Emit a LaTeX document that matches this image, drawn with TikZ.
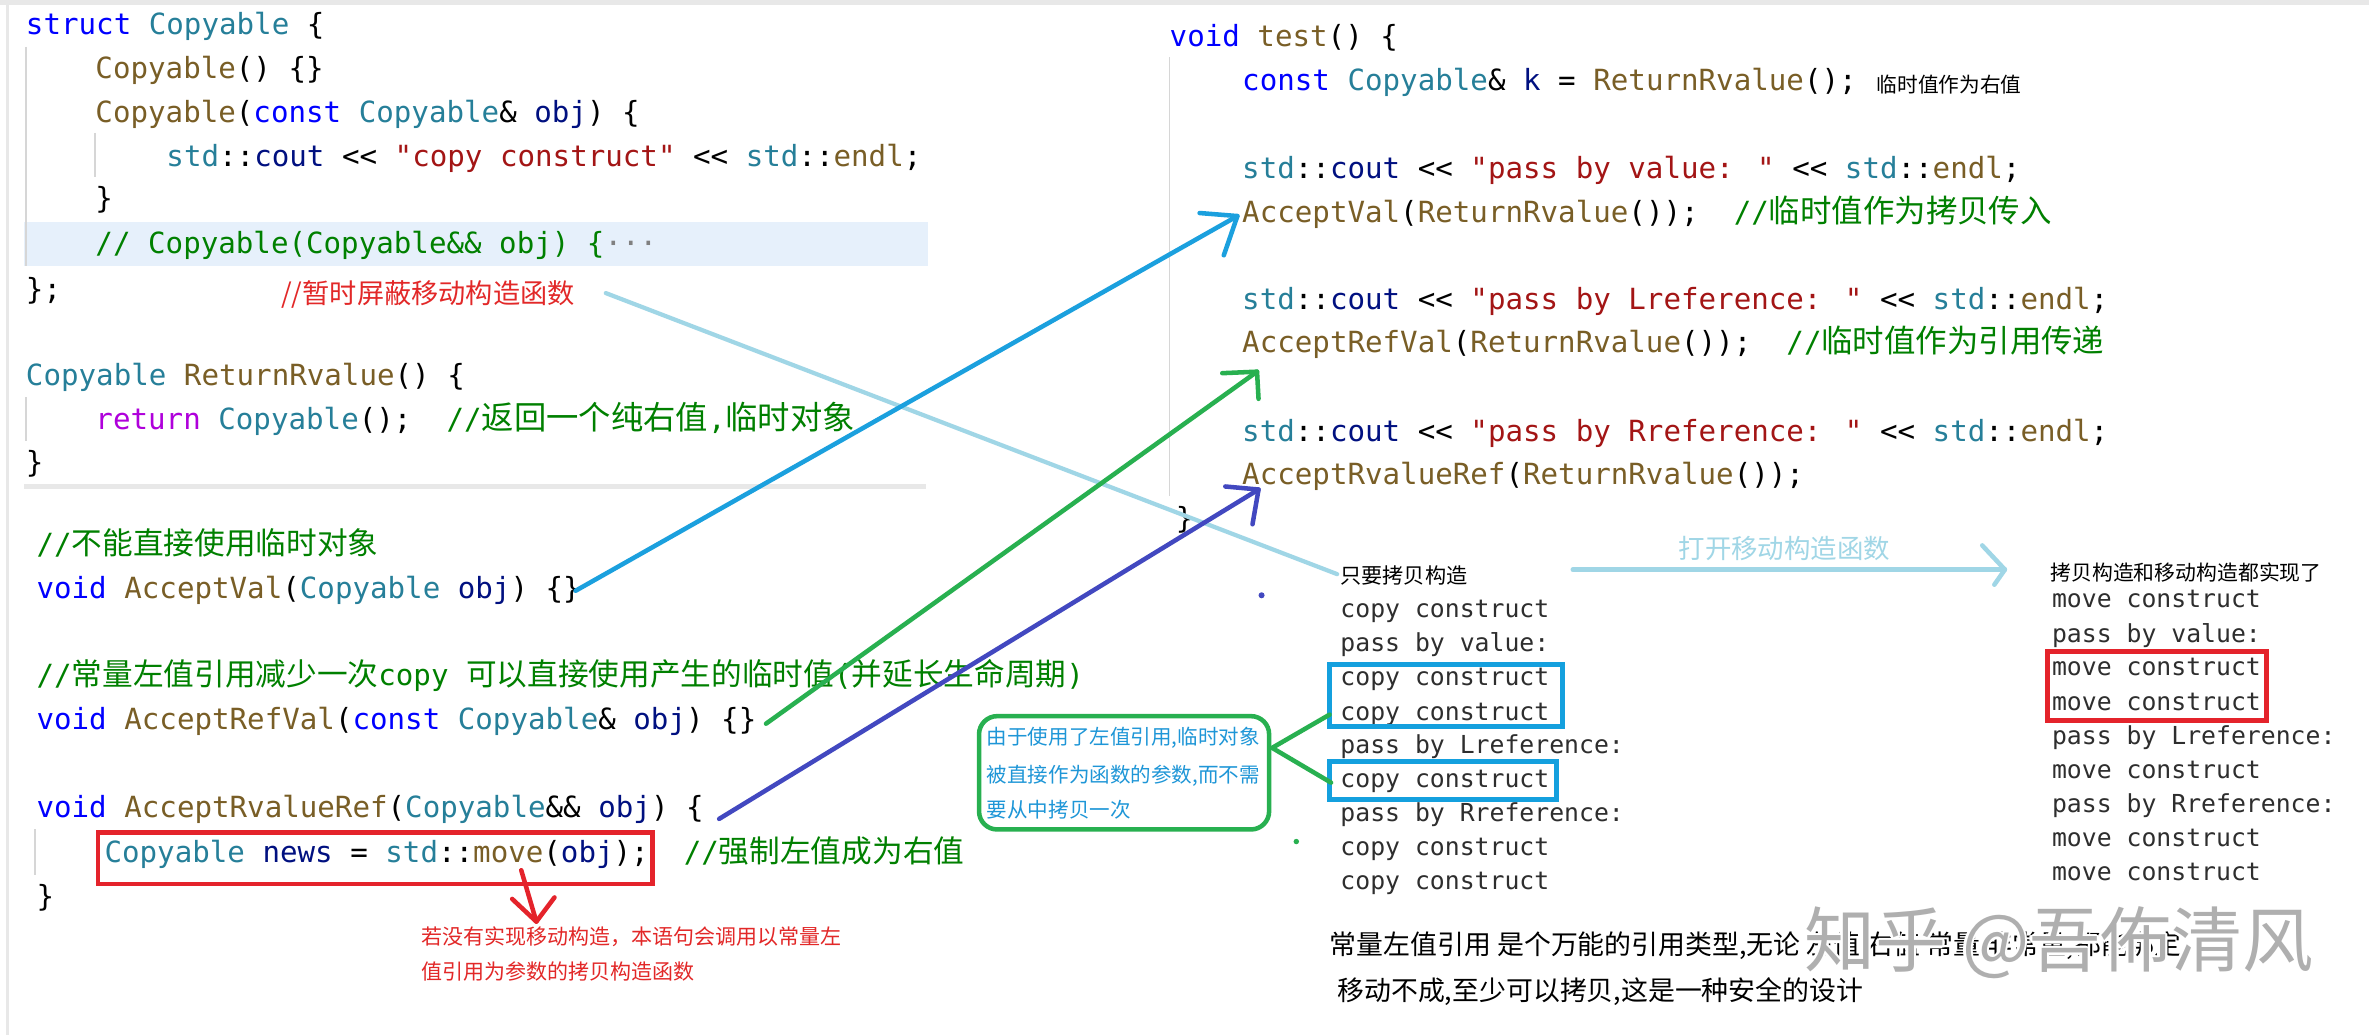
\documentclass[tikz,border=0pt]{standalone}
\usepackage{fontspec}
\newfontfamily\codefont{DejaVu Sans Mono}
\newfontfamily\cjk{Noto Sans CJK SC}
\definecolor{kwc}{HTML}{0000FF}
\definecolor{tyc}{HTML}{267F99}
\definecolor{fnc}{HTML}{795E26}
\definecolor{varc}{HTML}{001080}
\definecolor{strc}{HTML}{A31515}
\definecolor{cmc}{HTML}{008000}
\definecolor{ctlc}{HTML}{AF00DB}
\definecolor{outc}{HTML}{2E2E2E}
\definecolor{guidec}{HTML}{D6D6D6}
\definecolor{bandc}{HTML}{E6F0FB}
\definecolor{sepc}{HTML}{E8E8E8}
\definecolor{arrblue}{RGB}{27,160,222}
\definecolor{arrgreen}{RGB}{40,176,80}
\definecolor{arrindigo}{RGB}{66,72,192}
\definecolor{arrlight}{RGB}{160,214,230}
\definecolor{redc}{RGB}{228,35,43}
\definecolor{boxblue}{RGB}{20,160,222}
\definecolor{notered}{RGB}{226,40,40}
\definecolor{noteblue}{RGB}{30,150,215}
\definecolor{wmc}{RGB}{175,175,175}
\newcommand\kw[1]{\textcolor{kwc}{#1}}
\newcommand\ty[1]{\textcolor{tyc}{#1}}
\newcommand\fn[1]{\textcolor{fnc}{#1}}
\newcommand\vr[1]{\textcolor{varc}{#1}}
\newcommand\st[1]{\textcolor{strc}{#1}}
\newcommand\cm[1]{\textcolor{cmc}{#1}}
\newcommand\ctl[1]{\textcolor{ctlc}{#1}}
\def\zhsize{21}
\newcommand\zh[1]{{\cjk\fontsize{\zhsize}{\zhsize}\selectfont #1}}
\tikzset{
  code/.style={anchor=base west, inner sep=0pt, font=\codefont\fontsize{19.3}{22}\selectfont},
  outtxt/.style={anchor=base west, inner sep=0pt, text=outc, font=\codefont\fontsize{16.4}{19}\selectfont},
  label/.style={anchor=base west, inner sep=0pt, font=\cjk\fontsize{14}{16}\selectfont},
  guide/.style={draw=guidec, line width=1.2pt},
  pen/.style={line width=3pt, line cap=round, line join=round},
  boxline/.style={line width=3.2pt},
}
\begin{document}
\begin{tikzpicture}[x=1pt,y=-1pt]
\useasboundingbox (0,0) rectangle (1568,685);
\fill[white] (0,0) rectangle (1568,685);
% frame bits
\fill[sepc] (0,0) rectangle (1568,3);
\draw[sepc, line width=1.5pt] (5,0) -- (5,685);
\fill[bandc] (16,147) rectangle (614,176);
\draw[sepc, line width=3pt] (16,322) -- (613,322);
% indent guides
\draw[guide] (17,31) -- (17,176);
\draw[guide] (63,88) -- (63,117);
\draw[guide] (17,263) -- (17,292);
\draw[guide] (23,549) -- (23,579);
\draw[guide] (774,38) -- (774,328);

% left code, upper part
\def\zhsize{21.4}
\node[code] (c1) at (17,23) {\kw{struct} \ty{Copyable} \{};
\node[code] (c2) at (63,52) {\fn{Copyable}() \{\}};
\node[code] (c3) at (63,81) {\fn{Copyable}(\kw{const} \ty{Copyable}\& \vr{obj}) \{};
\node[code] (c4) at (110,110) {\ty{std}::\vr{cout} << \st{"copy construct"} << \ty{std}::\fn{endl};};
\node[code] (c5) at (63,138) {\}};
\node[code] (c6) at (63,168) {\cm{// Copyable(Copyable\&\& obj) \{}\textcolor{gray}{···}};
\node[code] (c7) at (17,198) {\};};
\node[anchor=base west, inner sep=0pt, text=notered, font=\cjk\fontsize{18}{20}\selectfont] (rn) at (186,201) {//暂时屏蔽移动构造函数};
\node[code] (c8) at (17,255) {\ty{Copyable} \fn{ReturnRvalue}() \{};
\node[code] (c9) at (63,284) {\ctl{return} \ty{Copyable}();\ \ \cm{//\zh{返回一个纯右值},\zh{临时对象}}};
\node[code] (c10) at (17,313) {\}};

% left code, lower part
\def\zhsize{20.3}
\node[code] (c11) at (24,367) {\cm{//\zh{不能直接使用临时对象}}};
\node[code] (c12) at (24,396) {\kw{void} \fn{AcceptVal}(\ty{Copyable} \vr{obj}) \{\}};
\node[code] (c13) at (24,454) {\cm{//\zh{常量左值引用减少一次}copy \zh{可以直接使用产生的临时值}(\zh{并延长生命周期})}};
\node[code] (c14) at (24,483) {\kw{void} \fn{AcceptRefVal}(\kw{const} \ty{Copyable}\& \vr{obj}) \{\}};
\node[code] (c15) at (24,541) {\kw{void} \fn{AcceptRvalueRef}(\ty{Copyable}\&\& \vr{obj}) \{};
\node[code] (c16) at (69,571) {\ty{Copyable} \vr{news} = \ty{std}::\fn{move}(\vr{obj});\ \ \cm{//\zh{强制左值成为右值}}};
\node[code] (c17) at (24,600) {\}};
\node[anchor=base west, inner sep=0pt, text=notered, font=\cjk\fontsize{13.9}{16}\selectfont] (rt1) at (279,625) {若没有实现移动构造，本语句会调用以常量左};
\node[anchor=base west, inner sep=0pt, text=notered, font=\cjk\fontsize{13.9}{16}\selectfont] (rt2) at (279,648) {值引用为参数的拷贝构造函数};

% right code: test()
\def\zhsize{20.8}
\node[code] (t1) at (774,31) {\kw{void} \fn{test}() \{};
\node[code] (t2) at (822,60) {\kw{const} \ty{Copyable}\& \vr{k} = \fn{ReturnRvalue}();};
\node[anchor=base west, inner sep=0pt, font=\cjk\fontsize{13.7}{16}\selectfont] (t2n) at (1242,61) {临时值作为右值};
\node[code] (t3) at (822,118) {\ty{std}::\vr{cout} << \st{"pass by value: "} << \ty{std}::\fn{endl};};
\node[code] (t4) at (822,147) {\fn{AcceptVal}(\fn{ReturnRvalue}());\ \ \cm{//\zh{临时值作为拷贝传入}}};
\node[code] (t5) at (822,205) {\ty{std}::\vr{cout} << \st{"pass by Lreference: "} << \ty{std}::\fn{endl};};
\node[code] (t6) at (822,233) {\fn{AcceptRefVal}(\fn{ReturnRvalue}());\ \ \cm{//\zh{临时值作为引用传递}}};
\node[code] (t7) at (822,292) {\ty{std}::\vr{cout} << \st{"pass by Rreference: "} << \ty{std}::\fn{endl};};
\node[code] (t8) at (822,321) {\fn{AcceptRvalueRef}(\fn{ReturnRvalue}());};
\node[code] (t9) at (778,350) {\}};

% output: copy only
\node[label] (ol) at (887,386) {只要拷贝构造};
\node[outtxt] (o1) at (887,409) {copy construct};
\node[outtxt] (o2) at (887,431) {pass by value:};
\node[outtxt] (o3) at (887,454) {copy construct};
\node[outtxt] (o4) at (887,477) {copy construct};
\node[outtxt] (o5) at (887,499) {pass by Lreference:};
\node[outtxt] (o6) at (887,521) {copy construct};
\node[outtxt] (o7) at (887,544) {pass by Rreference:};
\node[outtxt] (o8) at (887,566) {copy construct};
\node[outtxt] (o9) at (887,589) {copy construct};
\draw[boxblue, boxline] (880,440) rectangle (1034,481);
\draw[boxblue, boxline] (880,504) rectangle (1030,529);

% output: copy and move
\node[label, font=\cjk\fontsize{13.8}{16}\selectfont] (ml) at (1357,384) {拷贝构造和移动构造都实现了};
\node[outtxt] (m1) at (1358,402) {move construct};
\node[outtxt] (m2) at (1358,425) {pass by value:};
\node[outtxt] (m3) at (1358,447) {move construct};
\node[outtxt] (m4) at (1358,470) {move construct};
\node[outtxt] (m5) at (1358,493) {pass by Lreference:};
\node[outtxt] (m6) at (1358,515) {move construct};
\node[outtxt] (m7) at (1358,538) {pass by Rreference:};
\node[outtxt] (m8) at (1358,560) {move construct};
\node[outtxt] (m9) at (1358,583) {move construct};
\draw[redc, boxline] (1355,431) rectangle (1500,477);

% green note box
\draw[arrgreen, line width=3pt, rounded corners=12pt] (648,474) rectangle (840,549);
\node[anchor=base west, inner sep=0pt, text=noteblue, font=\cjk\fontsize{13.6}{16}\selectfont] (g1) at (653,493) {由于使用了左值引用,临时对象};
\node[anchor=base west, inner sep=0pt, text=noteblue, font=\cjk\fontsize{13.6}{16}\selectfont] (g2) at (653,518) {被直接作为函数的参数,而不需};
\node[anchor=base west, inner sep=0pt, text=noteblue, font=\cjk\fontsize{13.6}{16}\selectfont] (g3) at (653,541) {要从中拷贝一次};
\coordinate (gU) at (880,473);
\coordinate (gA) at (842,495);
\coordinate (gD) at (881,518);
\draw[arrgreen, pen] (gU) -- (gA) -- (gD);

% red code box and arrow
\draw[redc, line width=3pt] (65,551) rectangle (432,585);
\coordinate (rS) at (345,576);
\coordinate (rT) at (355,610);
\coordinate (rL) at (339,595);
\coordinate (rR) at (367,594);
\draw[redc, pen] (rS) -- (rT);
\draw[redc, pen] (rL) -- (rT) -- (rR);

% light blue line and arrow
\coordinate (lS) at (401,194);
\coordinate (lE) at (885,380);
\draw[arrlight, line width=2.8pt, line cap=round] (lS) -- (lE);
\node[text=arrlight, inner sep=0pt, font=\cjk\fontsize{17.5}{20}\selectfont] (open) at (1181,363) {打开移动构造函数};
\coordinate (hS) at (1041,377);
\coordinate (hT) at (1327,377);
\coordinate (hU) at (1312,361);
\coordinate (hD) at (1320,387);
\draw[arrlight, pen] (hS) -- (hT);
\draw[arrlight, pen] (hU) -- (hT) -- (hD);

% blue arrow
\coordinate (bS) at (381,391);
\coordinate (bT) at (819,143);
\coordinate (bL) at (794,141);
\coordinate (bD) at (810,169);
\draw[arrblue, pen] (bS) -- (bT);
\draw[arrblue, pen] (bL) -- (bT) -- (bD);

% green arrow
\coordinate (gS) at (507,479);
\coordinate (gT) at (832,246);
\coordinate (gL) at (809,247);
\coordinate (gB) at (833,264);
\draw[arrgreen, pen] (gS) -- (gT);
\draw[arrgreen, pen] (gL) -- (gT) -- (gB);

% indigo arrow
\coordinate (iS) at (476,542);
\coordinate (iT) at (833,324);
\coordinate (iL) at (811,322);
\coordinate (iB) at (829,347);
\draw[arrindigo, pen] (iS) -- (iT);
\draw[arrindigo, pen] (iL) -- (iT) -- (iB);

% stray dots
\fill[arrindigo] (835,394) circle (2pt);
\fill[arrgreen] (858,557) circle (1.8pt);

% bottom remark
\node[anchor=base west, inner sep=0pt, font=\cjk\fontsize{17.8}{20}\selectfont] (b1) at (880,632) {常量左值引用 是个万能的引用类型,无论 左值 右值 常量 非常量,都能绑定};
\node[anchor=base west, inner sep=0pt, font=\cjk\fontsize{17.8}{20}\selectfont] (b2) at (885,662) {移动不成,至少可以拷贝,这是一种安全的设计};

% watermark
\foreach \dx/\dy in {-1.6/0,1.6/0,0/-1.6,0/1.6,-1.2/-1.2,1.2/1.2,-1.2/1.2,1.2/-1.2}{
  \node[anchor=base west, inner sep=0pt, text=white, font=\cjk\fontsize{47}{50}\selectfont] at (1194+\dx,640+\dy) {知乎 @吾佈清风};
}
\node[anchor=base west, inner sep=0pt, text=wmc, font=\cjk\fontsize{47}{50}\selectfont] (wm) at (1194,640) {知乎 @吾佈清风};
\end{tikzpicture}
\end{document}
